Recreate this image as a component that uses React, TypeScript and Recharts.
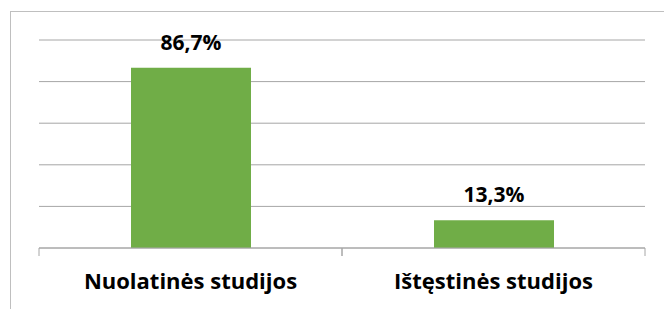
import React from "react";
import { BarChart, Bar, XAxis, YAxis, CartesianGrid, LabelList } from "recharts";

const categories = ["Nuolatinės studijos", "Ištęstinės studijos"];
const shares = [86.7, 13.3];
const yTicks = [0, 20, 40, 60, 80, 100];

const data = categories.map((name, i) => ({ name, value: shares[i] }));

const FONT = "'Open Sans', sans-serif";
const GRID = "#a6a6a6";

const fmt = (v: any) => String(v).replace(".", ",") + "%";

/* eslint-disable @typescript-eslint/no-explicit-any */
const CategoryTick = (props: any) => {
  const { x, y, payload } = props;
  const half = payload.offset || 0;
  return (
    <g>
      <line x1={x - half} x2={x - half} y1={y} y2={y + 8} stroke={GRID} />
      <line x1={x + half} x2={x + half} y1={y} y2={y + 8} stroke={GRID} />
      <text
        x={x}
        y={y + 41}
        textAnchor="middle"
        fontFamily={FONT}
        fontWeight="bold"
        fontSize={22}
        fill="#000"
      >
        {payload.value}
      </text>
    </g>
  );
};

export default function App() {
  return (
    <div
      style={{
        position: "fixed",
        left: 0,
        top: 0,
        width: 664,
        height: 309,
        overflow: "hidden",
        background: "#fff",
      }}
    >
      <div
        style={{
          position: "absolute",
          left: 10,
          top: 11,
          width: 800,
          height: 500,
          border: "1px solid #bfbfbf",
        }}
      />
      <div style={{ position: "absolute", left: 0, top: 0 }}>
        <BarChart
          width={664}
          height={309}
          data={data}
          margin={{ top: 40, right: 19, bottom: 31, left: 39 }}
        >
          <CartesianGrid vertical={false} stroke={GRID} />
          <YAxis hide domain={[0, 100]} ticks={yTicks} />
          <XAxis
            dataKey="name"
            height={30}
            axisLine={{ stroke: GRID }}
            tickLine={false}
            tickSize={0}
            tickMargin={0}
            tick={<CategoryTick />}
            interval={0}
          />
          <Bar dataKey="value" fill="#70ad47" barSize={120} isAnimationActive={false}>
            <LabelList
              dataKey="value"
              position="top"
              offset={18}
              formatter={fmt}
              fontFamily={FONT}
              fontWeight="bold"
              fontSize={21}
              fill="#000"
            />
          </Bar>
        </BarChart>
      </div>
    </div>
  );
}
